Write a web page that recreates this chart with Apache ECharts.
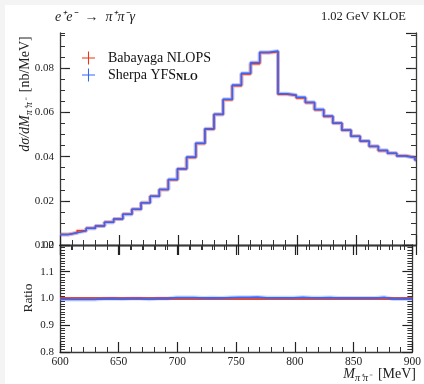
<!DOCTYPE html>
<html><head><meta charset="utf-8">
<script src="https://cdn.jsdelivr.net/npm/echarts@6/dist/echarts.min.js"></script>
<style>html,body{margin:0;padding:0;background:#fff}#c{width:424px;height:384px}</style>
</head><body><div id="c"></div>
<script>
// Bin edges in MeV (40 bins)
const binEdges = [600, 606.7, 614.4, 622.1, 629.8, 637.5, 645.2, 652.9, 660.6, 668.3, 676.0,
  683.7, 691.3, 699.0, 706.7, 714.4, 722.1, 729.8, 737.5, 745.2, 752.9,
  760.6, 768.3, 776.0, 783.7, 791.4, 799.1, 806.8, 814.5, 822.2, 829.9,
  837.5, 845.2, 852.9, 860.6, 868.3, 876.0, 883.7, 891.4, 899.1, 900];
const sherpaYFS = [0.0047, 0.0055, 0.0064, 0.0076, 0.0086, 0.0103, 0.0118, 0.0139, 0.0162, 0.0191,
  0.0221, 0.0251, 0.0297, 0.0345, 0.0398, 0.0461, 0.0526, 0.0592, 0.0660, 0.0725,
  0.0778, 0.0826, 0.0873, 0.0878, 0.0685, 0.0679, 0.0669, 0.0646, 0.0614, 0.0584,
  0.0552, 0.0521, 0.0493, 0.0471, 0.0447, 0.0429, 0.0415, 0.0403, 0.0395, 0.0385];
const babayagaNLOPS = [0.00472, 0.00552, 0.00643, 0.00763, 0.00861, 0.0103, 0.01182, 0.0139, 0.0162, 0.01916,
  0.0221, 0.0251, 0.02958, 0.03436, 0.03964, 0.04601, 0.05244, 0.05908, 0.06574, 0.07214,
  0.07741, 0.08211, 0.08704, 0.08754, 0.06830, 0.06770, 0.06657, 0.06441, 0.06122, 0.05817,
  0.05509, 0.05200, 0.04920, 0.04701, 0.04461, 0.04269, 0.04158, 0.04038, 0.03958, 0.03858];
const ratioSherpa = [0.996, 0.996, 0.996, 0.996, 0.999, 1.0, 0.998, 1.0, 1.0, 0.997,
  1.0, 1.0, 1.004, 1.004, 1.004, 1.002, 1.003, 1.002, 1.004, 1.005,
  1.005, 1.006, 1.003, 1.003, 1.003, 1.003, 1.005, 1.003, 1.003, 1.004,
  1.002, 1.002, 1.002, 1.002, 1.002, 1.005, 0.998, 0.998, 0.998, 0.998];
const ratioBabayaga = [1, 1, 1, 1, 1, 1, 1, 1, 1, 1, 1, 1, 1, 1, 1, 1, 1, 1, 1, 1,
  1, 1, 1, 1, 1, 1, 1, 1, 1, 1, 1, 1, 1, 1, 1, 1, 1, 1, 1, 1];
const mainYTicks = [0, 0.02, 0.04, 0.06, 0.08];
const ratioYTicks = [0.8, 0.9, 1.0, 1.1, 1.2];
const xTicks = [600, 650, 700, 750, 800, 850, 900];

const RED = '#EE3311', BLUE = '#3366FF';
const FONT = 'Liberation Serif';

function hist(vals) {
  const pts = vals.map((v, i) => [binEdges[i], v]);
  pts.push([binEdges[vals.length], vals[vals.length - 1]]);
  return pts;
}
function lineSeries(name, vals, color, width, opacity, xi, yi, z) {
  return { name, type: 'line', step: 'end', data: hist(vals), xAxisIndex: xi, yAxisIndex: yi,
    symbol: 'none', color, itemStyle: { color }, lineStyle: { color, width, opacity }, z, silent: true };
}

const G0 = { left: 60, top: 33, width: 356, height: 212 };
const G1 = { left: 60, top: 245, width: 356, height: 107 };
const axLine = { show: true, lineStyle: { color: '#3a3a3a', width: 1.3 } };
const majTick = { show: true, inside: true, length: 10, lineStyle: { color: '#222', width: 1.2 } };
const minTick = { show: true, length: 5, lineStyle: { color: '#333', width: 1 } };

function xAx(grid, pos, labels) {
  return { type: 'value', gridIndex: grid, position: pos, min: xTicks[0], max: xTicks[xTicks.length - 1], interval: 50,
    axisLine: axLine, axisTick: majTick, minorTick: Object.assign({ splitNumber: 5 }, minTick), splitLine: { show: false },
    axisLabel: labels ? { show: true, margin: 4, color: '#222', fontFamily: FONT, fontSize: 11.5 } : { show: false } };
}

const plus = 'path://M9.2,0H10.8V9.2H20V10.8H10.8V20H9.2V10.8H0V9.2H9.2Z';

const subStyle = (fs) => ({ fontFamily: FONT, fontStyle: 'italic', fontSize: fs, lineHeight: 11, verticalAlign: 'bottom' });

const option = {
  animation: false,
  backgroundColor: '#ffffff',
  grid: [G0, G1],
  xAxis: [xAx(0, 'bottom', false), xAx(0, 'top', false), xAx(1, 'bottom', true), xAx(1, 'top', false)],
  yAxis: [
    { type: 'value', gridIndex: 0, position: 'left', min: mainYTicks[0], max: 0.096, interval: 0.02,
      axisLine: axLine, axisTick: majTick, splitLine: { show: false },
      axisLabel: { margin: 6, color: '#222', fontFamily: FONT, fontSize: 11, showMaxLabel: false,
        formatter: v => v.toFixed(2) } },
    { type: 'value', gridIndex: 0, position: 'left', min: 0, max: 0.096, interval: 0.005,
      axisLine: { show: false }, axisTick: Object.assign({ inside: true }, minTick), splitLine: { show: false }, axisLabel: { show: false } },
    { type: 'value', gridIndex: 0, position: 'right', min: 0, max: 0.096, interval: 0.02,
      axisLine: axLine, axisTick: majTick, splitLine: { show: false }, axisLabel: { show: false } },
    { type: 'value', gridIndex: 0, position: 'right', min: 0, max: 0.096, interval: 0.005,
      axisLine: { show: false }, axisTick: Object.assign({ inside: true }, minTick), splitLine: { show: false }, axisLabel: { show: false } },
    { type: 'value', gridIndex: 1, position: 'left', min: ratioYTicks[0], max: ratioYTicks[ratioYTicks.length - 1], interval: 0.1,
      axisLine: axLine, axisTick: majTick, minorTick: Object.assign({ splitNumber: 10 }, minTick), splitLine: { show: false },
      axisLabel: { margin: 6, color: '#222', fontFamily: FONT, fontSize: 11, formatter: v => v.toFixed(1) } },
    { type: 'value', gridIndex: 1, position: 'right', min: 0.8, max: 1.2, interval: 0.1,
      axisLine: axLine, axisTick: majTick, minorTick: Object.assign({ splitNumber: 10 }, minTick), splitLine: { show: false },
      axisLabel: { show: false } }
  ],
  legend: {
    orient: 'vertical', left: 77, top: 46, itemWidth: 13, itemHeight: 13, itemGap: 3,
    data: [{ name: 'Babayaga NLOPS', icon: plus }, { name: 'Sherpa YFS_NLO', icon: plus }],
    itemStyle: { borderWidth: 0 }, lineStyle: { width: 0 },
    formatter: n => n.indexOf('_') > 0 ? '{n|' + n.split('_')[0] + '}{s|' + n.split('_')[1] + '}' : '{n|' + n + '}',
    textStyle: { padding: [0, 0, 0, 8], fontFamily: FONT, fontSize: 14, color: '#111',
      rich: { n: { fontFamily: FONT, fontSize: 14, color: '#111', lineHeight: 15 },
              s: { fontFamily: FONT, fontSize: 10, fontWeight: 'bold', color: '#111', lineHeight: 10, verticalAlign: 'bottom' } } }
  },
  graphic: [
    { type: 'rect', shape: { x: 0, y: 0, width: 424, height: 5 }, style: { fill: '#f4f4f4' }, silent: true, z: -10 },
    { type: 'rect', shape: { x: 0, y: 0, width: 5, height: 384 }, style: { fill: '#f4f4f4' }, silent: true, z: -10 },
    { type: 'text', x: 55, y: 17, style: { verticalAlign: 'middle', fill: '#222',
        text: '{i|e⁺e⁻}{n|  →  }{i|π⁺π⁻γ}',
        rich: { i: { fontFamily: FONT, fontStyle: 'italic', fontSize: 14 },
                n: { fontFamily: FONT, fontSize: 14 } } } },
    { type: 'text', x: 406, y: 17, style: { text: '1.02 GeV KLOE', align: 'right', verticalAlign: 'middle',
        fontFamily: FONT, fontSize: 12.5, fill: '#222' } },
    { type: 'text', x: 25, y: 94, rotation: Math.PI / 2, style: { align: 'center', verticalAlign: 'middle', fill: '#222',
        text: '{i|dσ/dM}{s|π⁺π⁻}{n|  [nb/MeV]}',
        rich: { i: { fontFamily: FONT, fontStyle: 'italic', fontSize: 14, lineHeight: 18 },
                n: { fontFamily: FONT, fontSize: 14, lineHeight: 18 },
                s: subStyle(10) } } },
    { type: 'text', x: 28, y: 298, rotation: Math.PI / 2, style: { text: 'Ratio', align: 'center', verticalAlign: 'middle',
        fontFamily: FONT, fontSize: 13.5, fill: '#222' } },
    { type: 'text', x: 416, y: 374, style: { align: 'right', verticalAlign: 'middle', fill: '#222',
        text: '{i|M}{s|π⁺π⁻}{n|  [MeV]}',
        rich: { i: { fontFamily: FONT, fontStyle: 'italic', fontSize: 14, lineHeight: 18 },
                n: { fontFamily: FONT, fontSize: 14, lineHeight: 18 },
                s: subStyle(10) } } }
  ],
  series: [
    lineSeries('babayaga_band', babayagaNLOPS, RED, 4, 0.25, 0, 0, 2),
    lineSeries('sherpa_band', sherpaYFS, BLUE, 4, 0.25, 0, 0, 3),
    lineSeries('Babayaga NLOPS', babayagaNLOPS, RED, 1.5, 1, 0, 0, 4),
    lineSeries('Sherpa YFS_NLO', sherpaYFS, BLUE, 1.5, 1, 0, 0, 5),
    lineSeries('ratio_babayaga', ratioBabayaga, RED, 3, 0.9, 2, 4, 2),
    lineSeries('ratio_sherpa_band', ratioSherpa, BLUE, 4, 0.25, 2, 4, 3),
    lineSeries('ratio_sherpa', ratioSherpa, BLUE, 1.5, 1, 2, 4, 4)
  ]
};
const chart = echarts.init(document.getElementById('c'), null, { renderer: 'canvas' });
chart.setOption(option);
</script></body></html>
